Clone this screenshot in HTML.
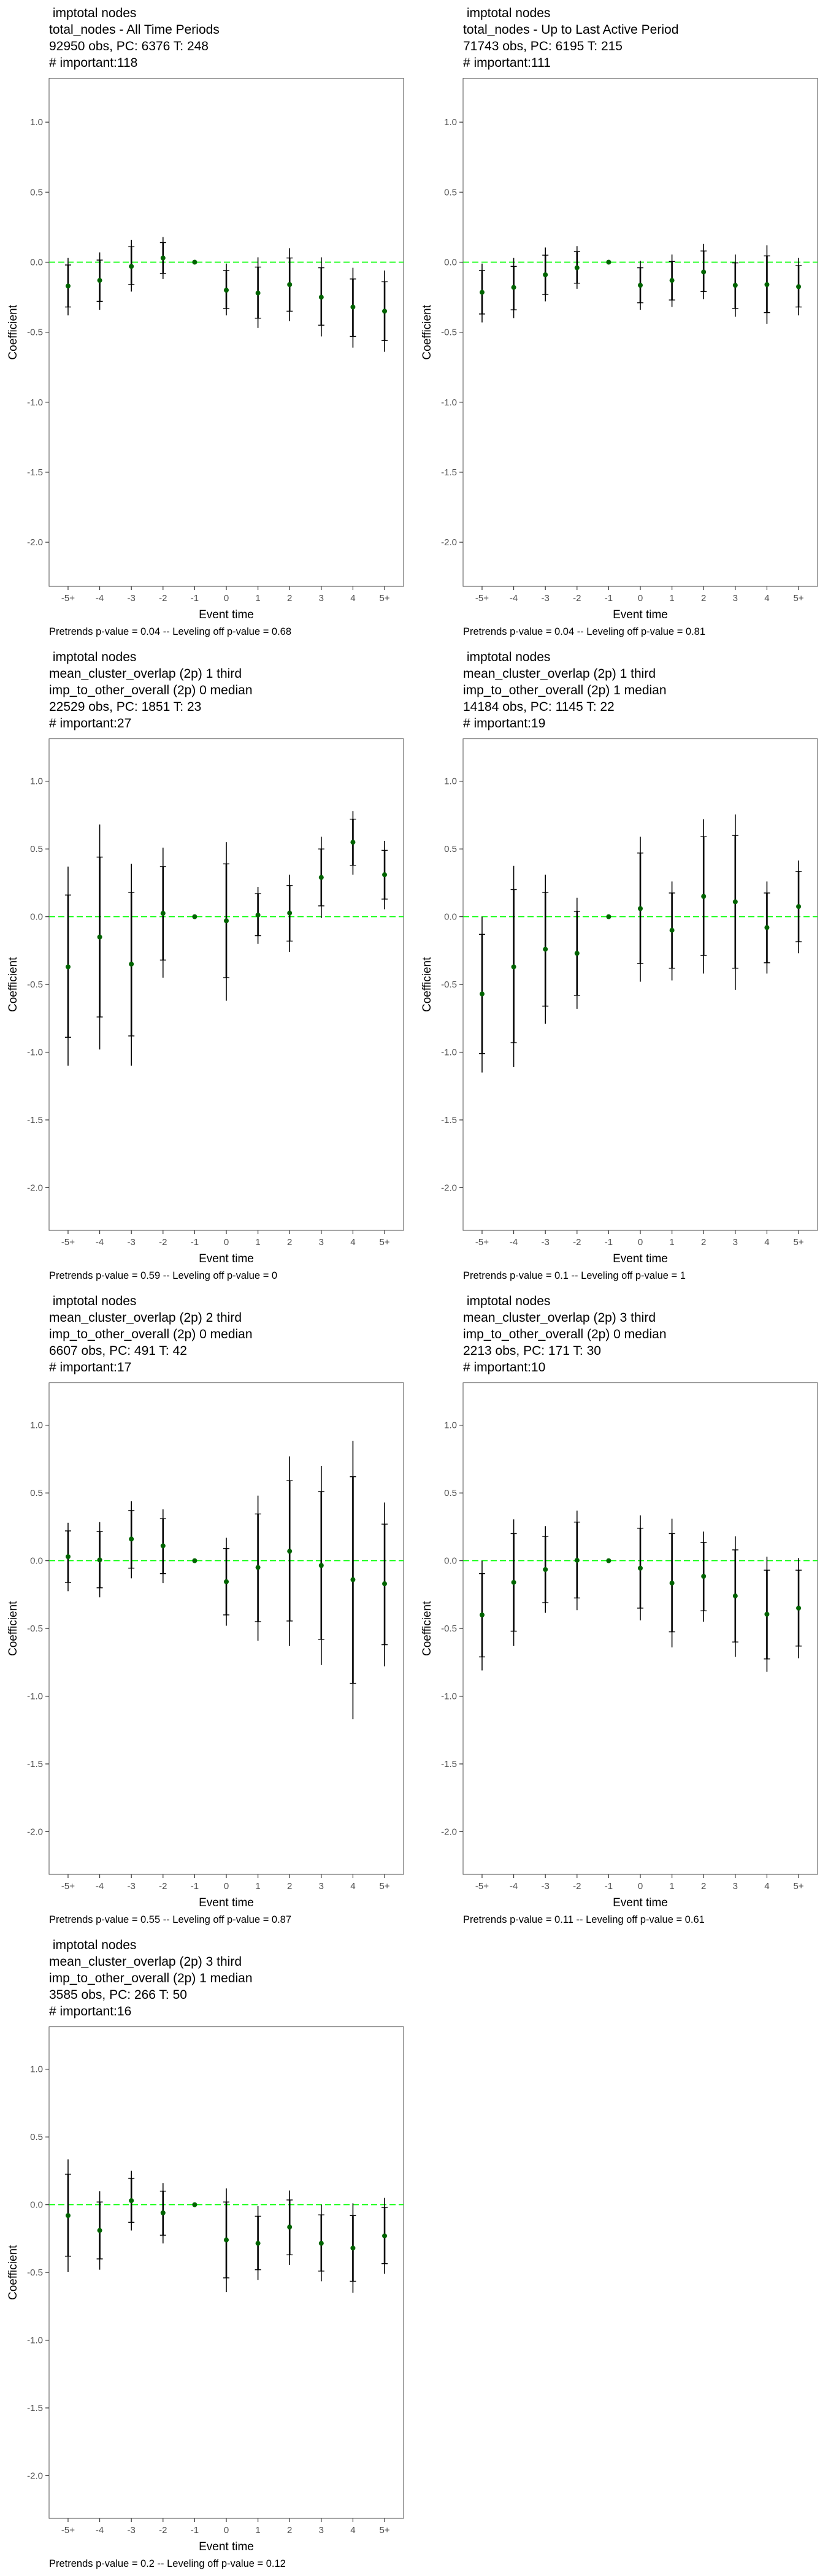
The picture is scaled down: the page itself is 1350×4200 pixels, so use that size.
<!DOCTYPE html>
<html>
<head>
<meta charset="utf-8">
<style>
  html,body{margin:0;padding:0;background:#fff;}
  svg{display:block;font-family:"Liberation Sans",sans-serif;}
  text{white-space:pre;}
</style>
</head>
<body>
<svg id="chart" width="1350" height="4200" viewBox="0 0 1350 4200" xmlns="http://www.w3.org/2000/svg" xml:space="preserve"></svg>
<script>
// ---- shared axis data ----
const categories = ["-5+","-4","-3","-2","-1","0","1","2","3","4","5+"];
const yTicks = [1.0, 0.5, 0.0, -0.5, -1.0, -1.5, -2.0];
const yTickLabels = ["1.0","0.5","0.0","-0.5","-1.0","-1.5","-2.0"];

// ---- panel 1 ----
const p1Coef    = [-0.17,-0.13,-0.03,0.03,0,-0.20,-0.22,-0.16,-0.25,-0.32,-0.35];
const p1HiOuter = [0.03,0.07,0.16,0.18,null,-0.01,0.035,0.10,0.035,-0.04,-0.06];
const p1LoOuter = [-0.38,-0.34,-0.21,-0.12,null,-0.38,-0.47,-0.42,-0.53,-0.61,-0.64];
const p1HiInner = [-0.02,0.015,0.11,0.14,null,-0.06,-0.035,0.03,-0.04,-0.12,-0.14];
const p1LoInner = [-0.32,-0.28,-0.16,-0.08,null,-0.33,-0.40,-0.35,-0.45,-0.53,-0.56];
// ---- panel 2 ----
const p2Coef    = [-0.215,-0.18,-0.09,-0.04,0,-0.165,-0.13,-0.07,-0.165,-0.16,-0.175];
const p2HiOuter = [-0.01,0.03,0.105,0.115,null,0.01,0.055,0.13,0.055,0.12,0.03];
const p2LoOuter = [-0.43,-0.40,-0.28,-0.19,null,-0.34,-0.32,-0.265,-0.39,-0.44,-0.38];
const p2HiInner = [-0.06,-0.03,0.05,0.075,null,-0.04,0.005,0.08,-0.005,0.045,-0.025];
const p2LoInner = [-0.37,-0.34,-0.23,-0.15,null,-0.29,-0.27,-0.21,-0.33,-0.36,-0.32];
// ---- panel 3 ----
const p3Coef    = [-0.37,-0.15,-0.35,0.025,0,-0.03,0.012,0.027,0.29,0.55,0.31];
const p3HiOuter = [0.37,0.68,0.39,0.51,null,0.55,0.22,0.31,0.59,0.78,0.56];
const p3LoOuter = [-1.10,-0.98,-1.10,-0.45,null,-0.62,-0.20,-0.26,-0.01,0.31,0.055];
const p3HiInner = [0.16,0.44,0.18,0.37,null,0.39,0.17,0.23,0.50,0.72,0.49];
const p3LoInner = [-0.89,-0.74,-0.88,-0.32,null,-0.45,-0.14,-0.18,0.08,0.38,0.13];
// ---- panel 4 ----
const p4Coef    = [-0.57,-0.37,-0.24,-0.27,0,0.06,-0.10,0.15,0.11,-0.08,0.075];
const p4HiOuter = [0.0,0.375,0.31,0.14,null,0.59,0.26,0.72,0.755,0.26,0.415];
const p4LoOuter = [-1.15,-1.11,-0.79,-0.68,null,-0.48,-0.47,-0.42,-0.54,-0.42,-0.27];
const p4HiInner = [-0.13,0.20,0.18,0.04,null,0.47,0.175,0.59,0.60,0.175,0.335];
const p4LoInner = [-1.01,-0.93,-0.66,-0.58,null,-0.345,-0.38,-0.285,-0.38,-0.34,-0.185];
// ---- panel 5 ----
const p5Coef    = [0.03,0.006,0.16,0.11,0,-0.155,-0.05,0.07,-0.035,-0.14,-0.17];
const p5HiOuter = [0.28,0.285,0.44,0.38,null,0.17,0.48,0.77,0.70,0.885,0.43];
const p5LoOuter = [-0.225,-0.27,-0.13,-0.165,null,-0.48,-0.59,-0.63,-0.77,-1.17,-0.78];
const p5HiInner = [0.22,0.215,0.37,0.31,null,0.09,0.345,0.59,0.51,0.62,0.27];
const p5LoInner = [-0.16,-0.20,-0.055,-0.095,null,-0.40,-0.45,-0.445,-0.58,-0.905,-0.62];
// ---- panel 6 ----
const p6Coef    = [-0.40,-0.16,-0.065,0.003,0,-0.055,-0.165,-0.115,-0.26,-0.395,-0.35];
const p6HiOuter = [0.0,0.305,0.255,0.37,null,0.335,0.31,0.215,0.18,0.03,0.02];
const p6LoOuter = [-0.81,-0.63,-0.385,-0.365,null,-0.44,-0.64,-0.45,-0.71,-0.82,-0.72];
const p6HiInner = [-0.095,0.20,0.18,0.285,null,0.24,0.20,0.135,0.08,-0.07,-0.07];
const p6LoInner = [-0.71,-0.52,-0.31,-0.275,null,-0.35,-0.525,-0.37,-0.60,-0.725,-0.63];
// ---- panel 7 ----
const p7Coef    = [-0.08,-0.19,0.03,-0.06,0,-0.26,-0.285,-0.165,-0.285,-0.32,-0.23];
const p7HiOuter = [0.335,0.10,0.25,0.16,null,0.12,-0.01,0.105,0.0,0.01,0.05];
const p7LoOuter = [-0.495,-0.48,-0.19,-0.285,null,-0.645,-0.555,-0.445,-0.565,-0.65,-0.51];
const p7HiInner = [0.225,0.02,0.195,0.10,null,0.02,-0.085,0.035,-0.075,-0.08,-0.02];
const p7LoInner = [-0.38,-0.40,-0.13,-0.225,null,-0.54,-0.48,-0.37,-0.49,-0.565,-0.435];

const panels = [
  {title:["\u00a0imptotal nodes","total_nodes - All Time Periods","92950 obs, PC: 6376 T: 248","# important:118"],
   note:"Pretrends p-value = 0.04 -- Leveling off p-value = 0.68",
   coef:p1Coef,hiO:p1HiOuter,loO:p1LoOuter,hiI:p1HiInner,loI:p1LoInner},
  {title:["\u00a0imptotal nodes","total_nodes - Up to Last Active Period","71743 obs, PC: 6195 T: 215","# important:111"],
   note:"Pretrends p-value = 0.04 -- Leveling off p-value = 0.81",
   coef:p2Coef,hiO:p2HiOuter,loO:p2LoOuter,hiI:p2HiInner,loI:p2LoInner},
  {title:["\u00a0imptotal nodes","mean_cluster_overlap (2p) 1 third","imp_to_other_overall (2p) 0 median","22529 obs, PC: 1851 T: 23","# important:27"],
   note:"Pretrends p-value = 0.59 -- Leveling off p-value = 0",
   coef:p3Coef,hiO:p3HiOuter,loO:p3LoOuter,hiI:p3HiInner,loI:p3LoInner},
  {title:["\u00a0imptotal nodes","mean_cluster_overlap (2p) 1 third","imp_to_other_overall (2p) 1 median","14184 obs, PC: 1145 T: 22","# important:19"],
   note:"Pretrends p-value = 0.1 -- Leveling off p-value = 1",
   coef:p4Coef,hiO:p4HiOuter,loO:p4LoOuter,hiI:p4HiInner,loI:p4LoInner},
  {title:["\u00a0imptotal nodes","mean_cluster_overlap (2p) 2 third","imp_to_other_overall (2p) 0 median","6607 obs, PC: 491 T: 42","# important:17"],
   note:"Pretrends p-value = 0.55 -- Leveling off p-value = 0.87",
   coef:p5Coef,hiO:p5HiOuter,loO:p5LoOuter,hiI:p5HiInner,loI:p5LoInner},
  {title:["\u00a0imptotal nodes","mean_cluster_overlap (2p) 3 third","imp_to_other_overall (2p) 0 median","2213 obs, PC: 171 T: 30","# important:10"],
   note:"Pretrends p-value = 0.11 -- Leveling off p-value = 0.61",
   coef:p6Coef,hiO:p6HiOuter,loO:p6LoOuter,hiI:p6HiInner,loI:p6LoInner},
  {title:["\u00a0imptotal nodes","mean_cluster_overlap (2p) 3 third","imp_to_other_overall (2p) 1 median","3585 obs, PC: 266 T: 50","# important:16"],
   note:"Pretrends p-value = 0.2 -- Leveling off p-value = 0.12",
   coef:p7Coef,hiO:p7HiOuter,loO:p7LoOuter,hiI:p7HiInner,loI:p7LoInner}
];

const NS = "http://www.w3.org/2000/svg";
const svg = document.getElementById("chart");
function mk(tag, attrs, parent){
  const e = document.createElementNS(NS, tag);
  for (const k in attrs) e.setAttribute(k, attrs[k]);
  parent.appendChild(e);
  return e;
}
const Y_MIN = -2.315, Y_MAX = 1.313;

panels.forEach((p, i) => {
  const ox = (i % 2) * 675, oy = Math.floor(i / 2) * 1050;
  const g = mk("g", {transform:`translate(${ox},${oy})`}, svg);
  
  

  const left = 80, right = 658, bottom = 956;
  const top = p.title.length === 4 ? 127.7 : 154.6;
  const yS = v => bottom - (v - Y_MIN) / (Y_MAX - Y_MIN) * (bottom - top);
  const step = (right - left) / (categories.length + 0.2);
  const xS = k => left + step * (k + 0.6);

  const tt = mk("text", {x:80, y:28, "font-size":21, fill:"#000"}, g);
  
  
  p.title.forEach((line, li) => {
    const ts = mk("tspan", {x:80, y:28 + li * 27}, tt);
    ts.textContent = line;
  });

  const fr = mk("rect", {x:left, y:top, width:right-left, height:bottom-top, fill:"#fff", stroke:"#4d4d4d", "stroke-width":1}, g);
  
  

  yTicks.forEach((v, k) => {
    const y = yS(v);
    const tk = mk("line", {x1:left-6, x2:left, y1:y, y2:y, stroke:"#333", "stroke-width":1.2}, g);
    
    
    const lb = mk("text", {x:left-10, y:y+5, "font-size":15, fill:"#4d4d4d", "text-anchor":"end"}, g);
    
    
    lb.textContent = yTickLabels[k];
  });
  categories.forEach((c, k) => {
    const x = xS(k);
    const tk = mk("line", {x1:x, x2:x, y1:bottom, y2:bottom+6, stroke:"#333", "stroke-width":1.2}, g);
    
    
    const lb = mk("text", {x:x, y:980, "font-size":15, fill:"#4d4d4d", "text-anchor":"middle"}, g);
    
    
    lb.textContent = c;
  });

  const xt = mk("text", {x:(left+right)/2, y:1008, "font-size":19, fill:"#000", "text-anchor":"middle"}, g);
  
  
  xt.textContent = "Event time";
  const yc = (top + bottom) / 2;
  const yt = mk("text", {x:0, y:0, "font-size":19, fill:"#000", "text-anchor":"middle", transform:`translate(27,${yc}) rotate(-90)`}, g);
  
  
  yt.textContent = "Coefficient";

  const zl = mk("line", {x1:left, x2:right, y1:yS(0), y2:yS(0), stroke:"#00ff00", "stroke-width":1.6, "stroke-dasharray":"10 5"}, g);
  
  

  categories.forEach((c, k) => {
    const x = xS(k);
    if (p.hiO[k] !== null) {
      const ob = mk("line", {x1:x, x2:x, y1:yS(p.hiO[k]), y2:yS(p.loO[k]), stroke:"#000", "stroke-width":1.6}, g);
      
      
      const ib = mk("line", {x1:x, x2:x, y1:yS(p.hiI[k]), y2:yS(p.loI[k]), stroke:"#000", "stroke-width":2.6}, g);
      
      
      [p.hiI[k], p.loI[k]].forEach(v => {
        const cap = mk("line", {x1:x-5, x2:x+5, y1:yS(v), y2:yS(v), stroke:"#000", "stroke-width":1.4}, g);
        
        
      });
    }
    const pt = mk("circle", {cx:x, cy:yS(p.coef[k]), r:4, fill:"#006400"}, g);
    
    
  });

  const nt = mk("text", {x:80, y:1035, "font-size":16.5, fill:"#000"}, g);
  
  
  nt.textContent = p.note;
});
</script>
</body>
</html>
